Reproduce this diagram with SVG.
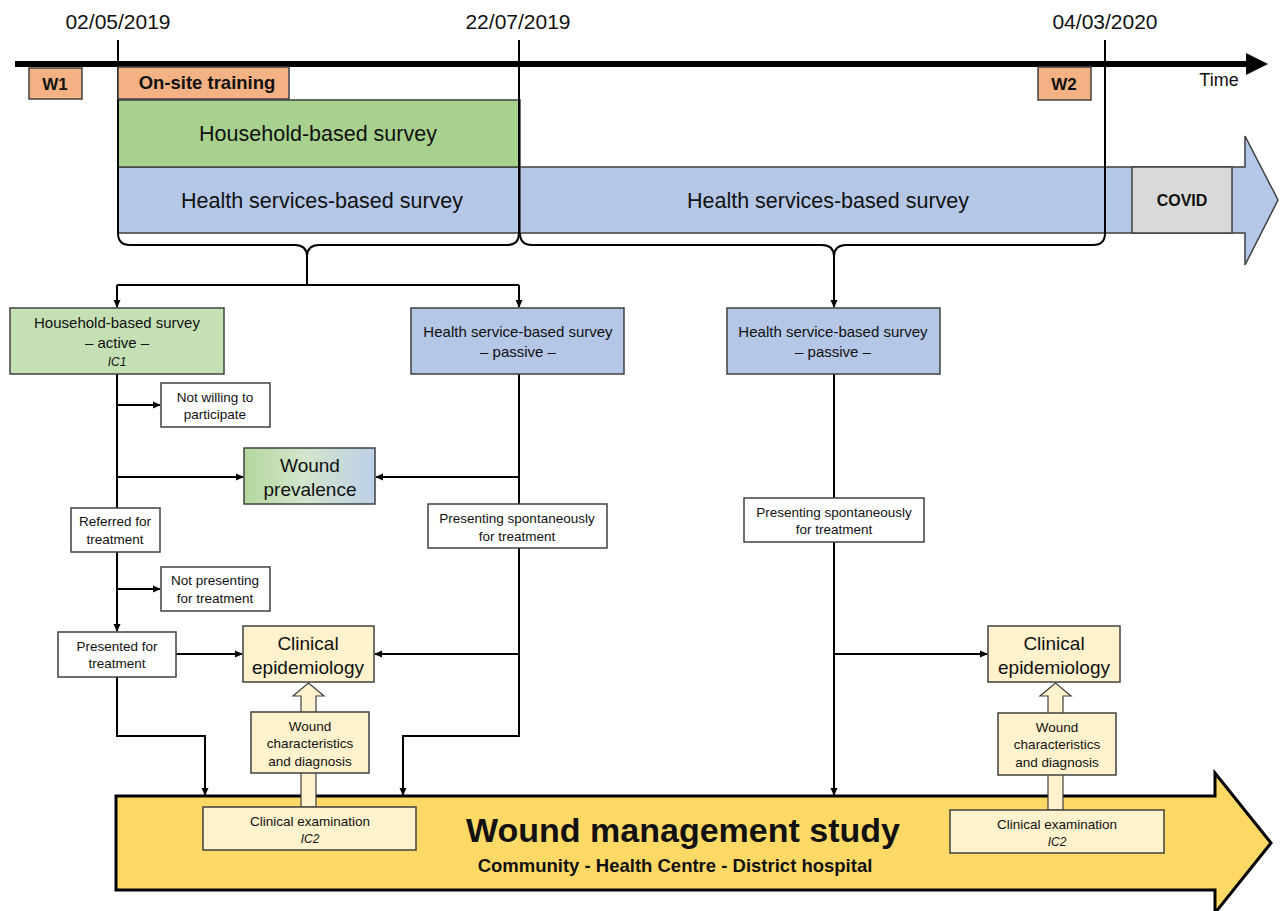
<svg xmlns="http://www.w3.org/2000/svg" width="1280" height="911" viewBox="0 0 1280 911">
<defs>
<marker id="ah" markerWidth="8" markerHeight="8" refX="7" refY="4" orient="auto" markerUnits="userSpaceOnUse">
<path d="M0,0.5 L8,4 L0,7.5 z" fill="#000"/>
</marker>
<linearGradient id="gp" x1="0" y1="0" x2="1" y2="0">
<stop offset="0" stop-color="#B2D69C"/>
<stop offset="0.45" stop-color="#D3E6CB"/>
<stop offset="1" stop-color="#BCCFE8"/>
</linearGradient>
</defs>
<style>
text{font-family:"Liberation Sans",Arial,sans-serif;fill:#111;text-anchor:middle}
.b{font-weight:bold}
.i{font-style:italic}
.bx{stroke:#404040;stroke-width:1.5}
.ln{fill:none;stroke:#000;stroke-width:2}
.tk{fill:none;stroke:#000;stroke-width:2}
.s13{font-size:13.5px}
.s15{font-size:15px}
.s19{font-size:19px}
.s20{font-size:21px}
.s21{font-size:21.5px}
</style>
<rect width="1280" height="911" fill="#fff"/>

<g id="survey-bars">
<rect x="118" y="167" width="402" height="66" fill="#B4C7E7" class="bx"/>
<polygon points="520,167 1245,167 1245,136 1278,200 1245,265 1245,233 520,233" fill="#B4C7E7" class="bx"/>
<rect x="118" y="100" width="402" height="67" fill="#A9D18E" class="bx"/>
<text x="318" y="141" class="s21">Household-based survey</text>
<text x="322" y="208" class="s21">Health services-based survey</text>
<text x="828" y="208" class="s21">Health services-based survey</text>
<rect x="1132" y="167" width="100" height="66" fill="#D9D9D9" class="bx"/>
<text x="1182" y="206" class="b" font-size="16">COVID</text>
</g>

<g id="timeline">
<line x1="15" y1="64" x2="1250" y2="64" stroke="#000" stroke-width="6"/>
<polygon points="1246,53 1268,64 1246,75" fill="#000"/>
<text x="1219" y="86" font-size="18">Time</text>
<text x="118" y="29" class="s20">02/05/2019</text>
<text x="518" y="29" class="s20">22/07/2019</text>
<text x="1105" y="29" class="s20">04/03/2020</text>
<line x1="118" y1="40" x2="118" y2="233" class="tk"/>
<line x1="519" y1="40" x2="519" y2="233" class="tk"/>
<line x1="1105" y1="40" x2="1105" y2="233" class="tk"/>
</g>

<g id="w1"><rect x="29" y="68" width="53" height="31" fill="#F4B183" class="bx"/><text x="55" y="90" class="b" font-size="17">W1</text></g>
<g id="training"><rect x="118" y="67" width="171" height="32" fill="#F4B183" class="bx"/><text x="207" y="89" class="b" font-size="18.5">On-site training</text></g>
<g id="w2"><rect x="1038" y="67" width="53" height="33" fill="#F4B183" class="bx"/><text x="1064" y="90" class="b" font-size="17">W2</text></g>

<g id="study-arrow">
<polygon points="116,796 1215,796 1215,773 1271,843 1215,913 1215,890 116,890" fill="#FFD966" stroke="#000" stroke-width="3"/>
<text x="683" y="842" class="b" font-size="34">Wound management study</text>
<text x="675" y="872" class="b" font-size="18.5">Community - Health Centre - District hospital</text>
</g>

<g id="connectors">
<path d="M118,233 Q118,245 130,245 L295,245 Q307,245 307,257 Q307,245 319,245 L507,245 Q519,245 519,233" class="ln"/>
<path d="M520,233 Q520,245 532,245 L822,245 Q834,245 834,257 Q834,245 846,245 L1093,245 Q1105,245 1105,233" class="ln"/>
<line x1="307" y1="255" x2="307" y2="285" class="ln"/>
<line x1="117" y1="285" x2="519" y2="285" class="ln"/>
<line x1="117" y1="285" x2="117" y2="307" class="ln" marker-end="url(#ah)"/>
<line x1="519" y1="285" x2="519" y2="307" class="ln" marker-end="url(#ah)"/>
<line x1="834" y1="255" x2="834" y2="307" class="ln" marker-end="url(#ah)"/>
<line x1="117" y1="374" x2="117" y2="508" class="ln"/>
<line x1="117" y1="405" x2="160" y2="405" class="ln" marker-end="url(#ah)"/>
<line x1="117" y1="477" x2="243" y2="477" class="ln" marker-end="url(#ah)"/>
<line x1="117" y1="552" x2="117" y2="631" class="ln" marker-end="url(#ah)"/>
<line x1="117" y1="589" x2="160" y2="589" class="ln" marker-end="url(#ah)"/>
<line x1="176" y1="654" x2="242" y2="654" class="ln" marker-end="url(#ah)"/>
<polyline points="117,677 117,736 205,736 205,795" class="ln" marker-end="url(#ah)"/>
<line x1="519" y1="374" x2="519" y2="504" class="ln"/>
<line x1="519" y1="477" x2="376" y2="477" class="ln" marker-end="url(#ah)"/>
<polyline points="519,548 519,736 403,736 403,795" class="ln" marker-end="url(#ah)"/>
<line x1="519" y1="654" x2="375" y2="654" class="ln" marker-end="url(#ah)"/>
<line x1="834" y1="374" x2="834" y2="498" class="ln"/>
<line x1="834" y1="542" x2="834" y2="795" class="ln" marker-end="url(#ah)"/>
<line x1="834" y1="654" x2="987" y2="654" class="ln" marker-end="url(#ah)"/>
<polygon points="301,807 301,696 293,696 308.5,683 324,696 316,696 316,807" fill="#FFF2CC" stroke="#404040" stroke-width="1.2"/>
<polygon points="1048,810 1048,696 1040,696 1055.5,683 1071,696 1063,696 1063,810" fill="#FFF2CC" stroke="#404040" stroke-width="1.2"/>
</g>

<g id="household-active">
<rect x="10" y="308" width="214" height="66" fill="#C5E0B4" class="bx"/>
<text x="117" y="328" class="s15">Household-based survey</text>
<text x="117" y="348" class="s15">– active –</text>
<text x="117" y="366" class="i" font-size="12">IC1</text>
</g>
<g id="health-passive-1">
<rect x="411" y="308" width="213" height="66" fill="#B4C7E7" class="bx"/>
<text x="518" y="337" class="s15">Health service-based survey</text>
<text x="518" y="357" class="s15">– passive –</text>
</g>
<g id="health-passive-2">
<rect x="727" y="308" width="213" height="66" fill="#B4C7E7" class="bx"/>
<text x="833" y="337" class="s15">Health service-based survey</text>
<text x="833" y="357" class="s15">– passive –</text>
</g>
<g id="not-willing">
<rect x="161" y="383" width="109" height="44" fill="#fff" class="bx"/>
<text x="215" y="402" class="s13">Not willing to</text>
<text x="215" y="419" class="s13">participate</text>
</g>
<g id="wound-prevalence">
<rect x="244" y="448" width="131" height="56" fill="url(#gp)" class="bx"/>
<text x="310" y="472" class="s19">Wound</text>
<text x="310" y="496" class="s19">prevalence</text>
</g>
<g id="referred">
<rect x="71" y="508" width="89" height="44" fill="#fff" class="bx"/>
<text x="115" y="526" class="s13">Referred for</text>
<text x="115" y="544" class="s13">treatment</text>
</g>
<g id="presenting-1">
<rect x="428" y="504" width="179" height="44" fill="#fff" class="bx"/>
<text x="517" y="523" class="s13">Presenting spontaneously</text>
<text x="517" y="541" class="s13">for treatment</text>
</g>
<g id="presenting-2">
<rect x="744" y="498" width="180" height="44" fill="#fff" class="bx"/>
<text x="834" y="517" class="s13">Presenting spontaneously</text>
<text x="834" y="534" class="s13">for treatment</text>
</g>
<g id="not-presenting">
<rect x="161" y="567" width="109" height="44" fill="#fff" class="bx"/>
<text x="215" y="585" class="s13">Not presenting</text>
<text x="215" y="603" class="s13">for treatment</text>
</g>
<g id="presented">
<rect x="58" y="632" width="118" height="45" fill="#fff" class="bx"/>
<text x="117" y="651" class="s13">Presented for</text>
<text x="117" y="668" class="s13">treatment</text>
</g>
<g id="clin-epi-1">
<rect x="243" y="626" width="131" height="56" fill="#FFF2CC" class="bx"/>
<text x="308" y="650" class="s19">Clinical</text>
<text x="308" y="674" class="s19">epidemiology</text>
</g>
<g id="wound-char-1">
<rect x="251" y="712" width="118" height="61" fill="#FFF2CC" class="bx"/>
<text x="310" y="731" class="s13">Wound</text>
<text x="310" y="748" class="s13">characteristics</text>
<text x="310" y="766" class="s13">and diagnosis</text>
</g>
<g id="clin-exam-1">
<rect x="203" y="807" width="213" height="43" fill="#FFF2CC" class="bx"/>
<text x="310" y="826" class="s13">Clinical examination</text>
<text x="310" y="843" class="i" font-size="12">IC2</text>
</g>
<g id="clin-epi-2">
<rect x="988" y="626" width="132" height="56" fill="#FFF2CC" class="bx"/>
<text x="1054" y="650" class="s19">Clinical</text>
<text x="1054" y="674" class="s19">epidemiology</text>
</g>
<g id="wound-char-2">
<rect x="998" y="713" width="118" height="62" fill="#FFF2CC" class="bx"/>
<text x="1057" y="732" class="s13">Wound</text>
<text x="1057" y="749" class="s13">characteristics</text>
<text x="1057" y="767" class="s13">and diagnosis</text>
</g>
<g id="clin-exam-2">
<rect x="950" y="810" width="214" height="43" fill="#FFF2CC" class="bx"/>
<text x="1057" y="829" class="s13">Clinical examination</text>
<text x="1057" y="846" class="i" font-size="12">IC2</text>
</g>
</svg>
